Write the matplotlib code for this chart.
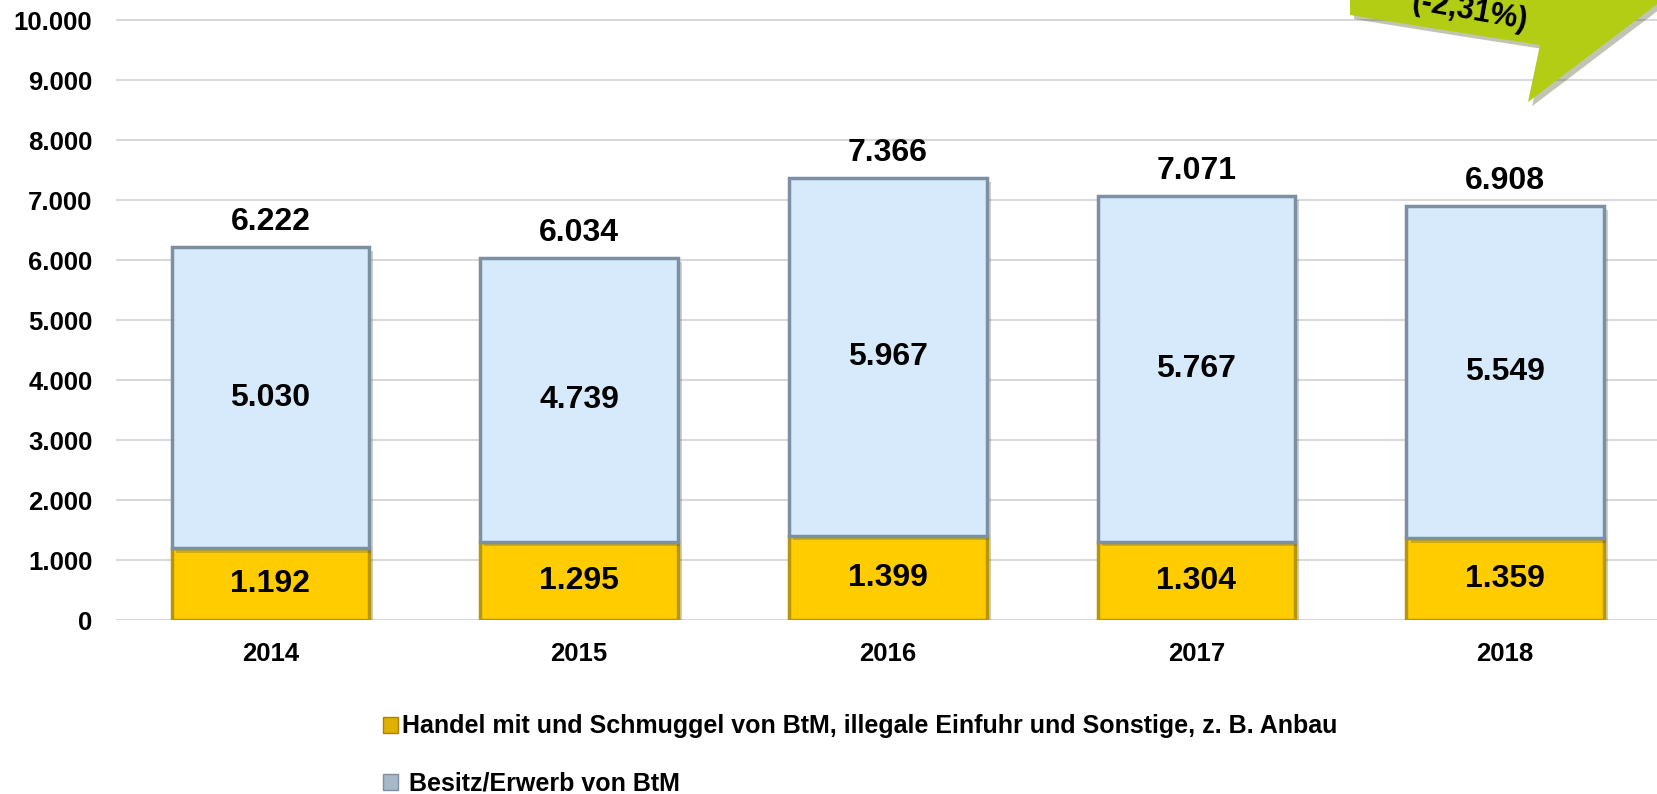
import matplotlib.pyplot as plt
import matplotlib.patheffects as pe
from matplotlib.patches import Polygon, Rectangle

plt.rcParams['font.family'] = ['Liberation Sans', 'DejaVu Sans']
plt.rcParams['font.weight'] = 'bold'

# data
years = ['2014', '2015', '2016', '2017', '2018']
handel = [1192, 1295, 1399, 1304, 1359]
besitz = [5030, 4739, 5967, 5767, 5549]
yticks = [0, 1000, 2000, 3000, 4000, 5000, 6000, 7000, 8000, 9000, 10000]
label_handel = 'Handel mit und Schmuggel von BtM, illegale Einfuhr und Sonstige, z. B. Anbau'
label_besitz = ' Besitz/Erwerb von BtM'
change_text = '(-2,31%)'

def de(v):
    # german thousands separator
    return f'{v:,}'.replace(',', '.')

W, H = 1657, 794
fig = plt.figure(figsize=(W / 100, H / 100), dpi=100)
ax = fig.add_axes([116 / W, (H - 620) / H, 1543.5 / W, 603 / H])

x = list(range(len(years)))
totals = [a + b for a, b in zip(handel, besitz)]
shadow = [pe.SimplePatchShadow(offset=(3, -3), alpha=0.25), pe.Normal()]

b1 = ax.bar(x, handel, width=0.64, color='#ffcc00', edgecolor='#b8960a',
            linewidth=2.5, zorder=3)
b2 = ax.bar(x, besitz, bottom=handel, width=0.64, color='#d6eafc',
            edgecolor='#7d8fa3', linewidth=2.5, zorder=3)
for p in list(b1) + list(b2):
    p.set_path_effects(shadow)

for i in x:
    ax.text(i, handel[i] / 2, de(handel[i]), ha='center', va='center',
            fontsize=23, fontweight='bold', zorder=5)
    ax.text(i, handel[i] + besitz[i] / 2, de(besitz[i]), ha='center', va='center',
            fontsize=23, fontweight='bold', zorder=5)
    ax.annotate(de(totals[i]), (i, totals[i]), xytext=(0, 7), textcoords='offset points',
                ha='center', va='bottom', fontsize=23, fontweight='bold')

ax.set_xlim(-0.5, 4.5)
ax.set_ylim(0, 10050)
ax.set_yticks(yticks)
ax.set_yticklabels([de(v) for v in yticks])
ax.set_xticks(x)
ax.set_xticklabels(years)
ax.tick_params(axis='y', length=0, pad=17, labelsize=18.5)
ax.tick_params(axis='x', length=0, pad=16, labelsize=18.5)
ax.grid(axis='y', color='#d9d9d9', linewidth=1.5, zorder=0)
ax.set_axisbelow(True)
for s in ax.spines.values():
    s.set_visible(False)

# legend
h1 = Rectangle((0, 0), 1, 1, facecolor='#e0b000', edgecolor='#a88400')
h2 = Rectangle((0, 0), 1, 1, facecolor='#a9b8c8', edgecolor='#7d8fa3')
fig.legend([h1, h2], [label_handel, label_besitz], loc='upper left',
           bbox_to_anchor=(370 / W, (H - 702) / H), frameon=False,
           prop={'size': 18, 'weight': 'bold'}, handlelength=0.6, handleheight=0.6,
           handletextpad=0.2, labelspacing=1.33, borderpad=0)

# green arrow top right
pts = [(1350, -10), (1350, 15), (1450, 31), (1540, 45), (1528, 102), (1665, -2), (1665, -10)]
arrow = Polygon([(px / W, 1 - py / H) for px, py in pts], closed=True,
                transform=fig.transFigure, facecolor='#b3cc14', edgecolor='none',
                path_effects=[pe.SimplePatchShadow(offset=(3, -3), alpha=0.3), pe.Normal()])
fig.patches.append(arrow)
fig.text(1470 / W, 1 - 11 / H, change_text, ha='center', va='center', rotation=-10,
         fontsize=22, fontweight='bold')

fig.savefig('out.png', dpi=100)
